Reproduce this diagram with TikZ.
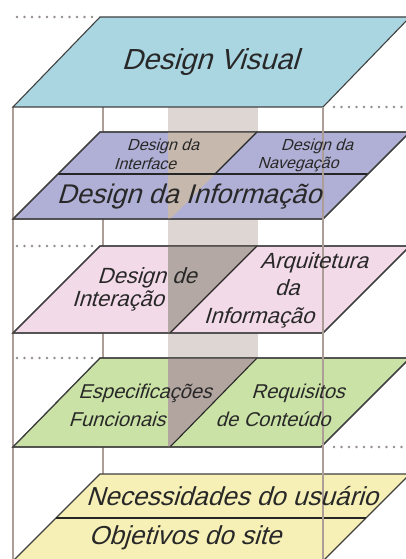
\documentclass[tikz,border=0pt]{standalone}
\usepackage{fontspec}
\newfontfamily\lf{Liberation Sans}[FakeSlant=0.3]
\definecolor{cblue}{RGB}{170,214,225}
\definecolor{cpurple}{RGB}{176,176,214}
\definecolor{cpink}{RGB}{243,218,232}
\definecolor{cgreen}{RGB}{202,226,165}
\definecolor{cyellow}{RGB}{246,240,182}
\definecolor{cband}{RGB}{222,214,210}
\definecolor{cbrownA}{RGB}{198,184,172}
\definecolor{cbrownB}{RGB}{180,168,164}
\definecolor{cbrownC}{RGB}{178,165,160}
\definecolor{cvline}{RGB}{172,158,150}
\definecolor{cdot}{RGB}{150,140,140}
\definecolor{ctext}{RGB}{40,40,40}
\begin{document}
\begin{tikzpicture}[x=1pt,y=-1pt,
  plane/.style={draw=black!75,line width=1.1pt,line join=miter},
  divline/.style={draw=black!85,line width=1.1pt},
  vline/.style={draw=cvline,line width=1.3pt},
  dotline/.style={draw=cdot,line width=2.6pt,line cap=round,dash pattern=on 0pt off 7.5pt},
  lbl/.style={font=\lf, text=ctext, inner sep=0pt, anchor=center}]
\clip (0,0) rectangle (406,559);
\fill[white] (0,0) rectangle (406,559);
% band
\fill[cband] (168,60) rectangle (258,447);
% back vertical lines
\draw[vline] (13,107) -- (13,559);
\draw[vline] (103,107) -- (103,474);
% dotted lines
\draw[dotline] (17,17) -- (96,17);
\draw[dotline] (17,246) -- (96,246);
\draw[dotline] (17,358) -- (96,358);
\draw[dotline] (334,107) -- (406,107);
\draw[dotline] (334,447) -- (406,447);
% top plane
\path[plane,fill=cblue] (100,17) -- (410,17) -- (323,107) -- (13,107) -- cycle;
% purple plane
\path[plane,fill=cpurple] (100,132) -- (410,132) -- (323,219) -- (13,219) -- cycle;
\fill[cbrownA] (168,132) -- (257,132) -- (170,219) -- (168,219) -- cycle;
\draw[divline] (58,174) -- (368,174);
\draw[divline] (257,132) -- (215,174);
\draw[plane] (100,132) -- (410,132) -- (323,219) -- (13,219) -- cycle;
% pink plane
\path[plane,fill=cpink] (100,246) -- (410,246) -- (323,333) -- (13,333) -- cycle;
\fill[cbrownB] (168,246) -- (257,246) -- (170,333) -- (168,333) -- cycle;
\draw[divline] (257,246) -- (170,333);
\draw[plane] (100,246) -- (410,246) -- (323,333) -- (13,333) -- cycle;
% green plane
\path[plane,fill=cgreen] (100,358) -- (410,358) -- (321,447) -- (13,447) -- cycle;
\fill[cbrownC] (168,358) -- (257,358) -- (170,447) -- (168,447) -- cycle;
\draw[divline] (257,358) -- (170,447);
\draw[plane] (100,358) -- (410,358) -- (321,447) -- (13,447) -- cycle;
% yellow plane
\path[plane,fill=cyellow] (100,474) -- (410,474) -- (322,562) -- (12,562) -- cycle;
\draw[divline] (56,518) -- (366,518);
% front vertical line
\draw[vline] (323,107) -- (323,559);
% texts
\node[lbl,font=\lf\fontsize{29}{32}\selectfont] (dv) at (210,62) {Design Visual};
\node[lbl,font=\lf\fontsize{16}{18}\selectfont] (di1) at (163,146) {Design da};
\node[lbl,font=\lf\fontsize{16}{18}\selectfont] (di2) at (145,164) {Interface};
\node[lbl,font=\lf\fontsize{16}{18}\selectfont] (dn1) at (317,146) {Design da};
\node[lbl,font=\lf\fontsize{16}{18}\selectfont] (dn2) at (298,164) {Navegação};
\node[lbl,font=\lf\fontsize{27}{30}\selectfont] (dinf) at (189,197) {Design da Informação};
\node[lbl,font=\lf\fontsize{22}{25}\selectfont] (dint1) at (147,278) {Design de};
\node[lbl,font=\lf\fontsize{22}{25}\selectfont] (dint2) at (118,301) {Interação};
\node[lbl,font=\lf\fontsize{22}{25}\selectfont] (ai1) at (314,263) {Arquitetura};
\node[lbl,font=\lf\fontsize{22}{25}\selectfont] (ai2) at (287,288) {da};
\node[lbl,font=\lf\fontsize{22}{25}\selectfont] (ai3) at (259,318) {Informação};
\node[lbl,font=\lf\fontsize{20}{23}\selectfont] (ef1) at (145,393) {Especificações};
\node[lbl,font=\lf\fontsize{20}{23}\selectfont] (ef2) at (117,419) {Funcionais};
\node[lbl,font=\lf\fontsize{20}{23}\selectfont] (rc1) at (298,393) {Requisitos};
\node[lbl,font=\lf\fontsize{20}{23}\selectfont] (rc2) at (273,419) {de Conteúdo};
\node[lbl,font=\lf\fontsize{26}{29}\selectfont] (nu) at (232,496) {Necessidades do usuário};
\node[lbl,font=\lf\fontsize{26}{29}\selectfont] (os) at (185,538) {Objetivos do site};
\end{tikzpicture}
\end{document}
